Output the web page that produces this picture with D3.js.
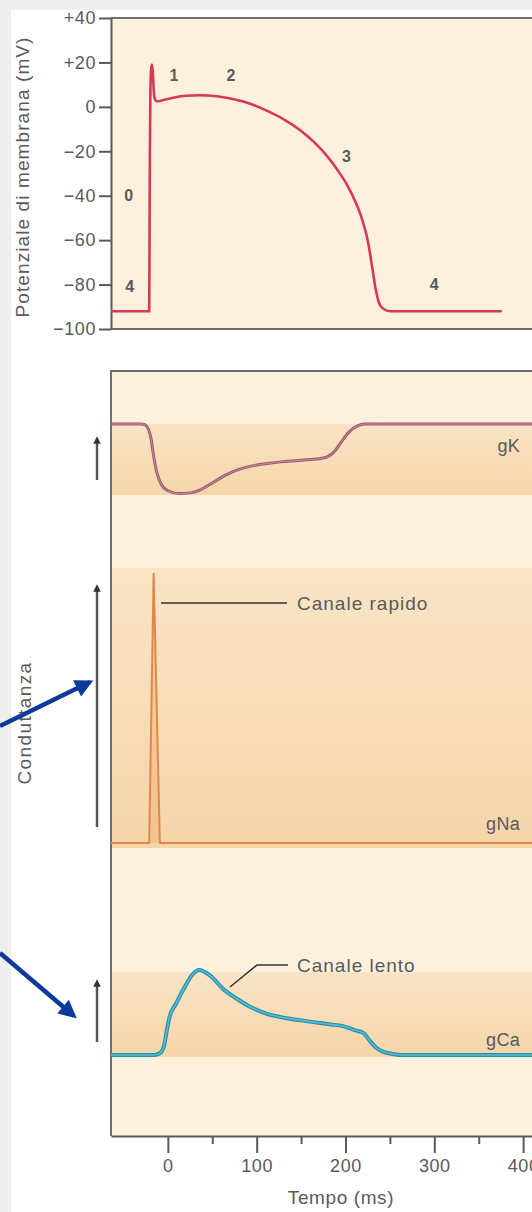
<!DOCTYPE html>
<html>
<head>
<meta charset="utf-8">
<script src="https://cdn.jsdelivr.net/npm/d3@7"></script>
<style>
  body { margin: 0; background: #fff; }
  svg { display: block; }
  text { font-family: "Liberation Sans", Arial, sans-serif; fill: #5a5a5a; }
</style>
</head>
<body>
<div class="canvas"></div>
<script>
const WIDTH = 532, HEIGHT = 1212;

// data
const apTime = [-64, -21, -20.6, -20.2, -19.6, -18.8, -17.8, -16.8, -15.8, -14.6, -12, -6, 5, 20, 36, 55, 73, 92, 110, 130, 149, 165, 180, 192, 203, 212, 219, 225, 230, 234, 238, 243, 250, 376];
const apMv   = [-92, -92, -60, -20, 8, 17, 19, 15, 7, 3.5, 2.5, 3, 4, 5, 5.2, 4.8, 3.5, 1.5, -1.5, -5.5, -10.5, -16, -22.5, -29, -36, -43.5, -51, -60, -72, -82, -88.5, -91, -92, -92];

const gkTime = [-64, -30, -26, -22, -19, -16, -12, -7, 0, 13, 25, 36, 50, 65, 80, 95, 110, 130, 150, 170, 180, 188, 196, 205, 213, 222, 235, 410];
const gkVal  = [1, 1, 0.99, 0.93, 0.8, 0.55, 0.3, 0.14, 0.06, 0.02, 0.03, 0.07, 0.17, 0.28, 0.36, 0.41, 0.44, 0.47, 0.49, 0.51, 0.54, 0.62, 0.76, 0.9, 0.97, 1, 1, 1];

const gnaTime = [-64, -21, -16, -9, 410];
const gnaVal  = [0, 0, 1, 0, 0];

const gcaTime = [-64, -15, -9, -4.5, -1, 2, 9, 19, 28, 35, 47, 64, 75, 92, 110, 148, 183, 197, 211, 220, 228, 234, 242, 249, 262, 410];
const gcaVal  = [0, 0, 0.02, 0.1, 0.3, 0.45, 0.6, 0.8, 0.95, 1, 0.94, 0.76, 0.68, 0.57, 0.49, 0.41, 0.36, 0.34, 0.29, 0.26, 0.16, 0.09, 0.04, 0.02, 0, 0];

const mvTicks = [40, 20, 0, -20, -40, -60, -80, -100];
const timeMajor = [0, 100, 200, 300, 400];
const timeMinor = [50, 150, 250, 350];

const phaseLabels = ['0', '1', '2', '3', '4', '4'];
const phaseTime   = [-44, 7, 71, 201, -43, 300];
const phaseMv     = [-40, 14, 14, -22.5, -81, -80];

const svg = d3.select('.canvas').append('svg')
  .attr('width', WIDTH)
  .attr('height', HEIGHT);

const defs = svg.append('defs');
const band = defs.append('linearGradient').attr('id', 'band')
  .attr('x1', 0).attr('y1', 0).attr('x2', 0).attr('y2', 1);
band.append('stop').attr('offset', '0%').attr('stop-color', '#fae4c6');
band.append('stop').attr('offset', '100%').attr('stop-color', '#f5d5a9');

defs.append('marker').attr('id', 'tip')
  .attr('viewBox', '0 0 10 10').attr('refX', 5).attr('refY', 5)
  .attr('markerWidth', 3).attr('markerHeight', 3).attr('orient', 'auto')
  .append('path').attr('d', 'M0,0L10,5L0,10z').attr('fill', '#333');

defs.append('marker').attr('id', 'blue')
  .attr('viewBox', '0 0 10 10').attr('refX', 8).attr('refY', 5)
  .attr('markerWidth', 4.4).attr('markerHeight', 4).attr('orient', 'auto')
  .append('path').attr('d', 'M0,0L10,5L0,10z').attr('fill', '#0b3a9c');

// grey strips at the edges of the scan
svg.append('rect').attr('x', 0).attr('y', 0).attr('width', WIDTH).attr('height', 10).attr('fill', '#efefef');
svg.append('rect').attr('x', 0).attr('y', 0).attr('width', 11).attr('height', HEIGHT).attr('fill', '#efefef');

//scales
const x = d3.scaleLinear().domain([-64, 410]).range([111, 532]);
const yV = d3.scaleLinear().domain([-100, 40]).range([329, 18]);
const yK = d3.scaleLinear().domain([0, 1]).range([495, 424]);
const yNa = d3.scaleLinear().domain([0, 1]).range([843, 573]);
const yCa = d3.scaleLinear().domain([0, 1]).range([1055, 970]);

// top panel
svg.append('rect').attr('x', 111).attr('y', 18).attr('width', WIDTH - 111).attr('height', 311).attr('fill', '#fdf1de');
svg.append('line').attr('x1', 111).attr('x2', WIDTH).attr('y1', 18).attr('y2', 18).attr('stroke', '#6e6e6e').attr('stroke-width', 2);
svg.append('line').attr('x1', 111).attr('x2', WIDTH).attr('y1', 329).attr('y2', 329).attr('stroke', '#6e6e6e').attr('stroke-width', 2);

const yAxis = svg.append('g')
  .attr('transform', 'translate(111,0)')
  .call(d3.axisLeft(yV).tickValues(mvTicks).tickSizeInner(12).tickSizeOuter(0).tickPadding(3)
    .tickFormat(d => d > 0 ? '+' + d : d < 0 ? '\u2212' + Math.abs(d) : '0'));
yAxis.selectAll('path, line').attr('stroke', '#5a5a5a').attr('stroke-width', 2);
yAxis.selectAll('text').style('font-size', '18px').attr('fill', '#5a5a5a')
  .attr('letter-spacing', '0.6px').attr('font-family', '"Liberation Sans", Arial, sans-serif');

svg.append('text')
  .attr('transform', 'translate(29,177) rotate(-90)')
  .attr('text-anchor', 'middle')
  .style('font-size', '19px').attr('letter-spacing', '1.1px')
  .text('Potenziale di membrana (mV)');

const apLine = d3.line()
  .x((d, i) => x(apTime[i]))
  .y(d => yV(d))
  .curve(d3.curveMonotoneX);

svg.append('path').datum(apMv)
  .attr('d', apLine)
  .attr('fill', 'none').attr('stroke', '#d8365a').attr('stroke-width', 2.6);

svg.selectAll('.phase').data(phaseLabels).enter().append('text')
  .attr('class', 'phase')
  .attr('x', (d, i) => x(phaseTime[i]))
  .attr('y', (d, i) => yV(phaseMv[i]))
  .attr('text-anchor', 'middle').attr('dy', '0.35em')
  .style('font-size', '16px').style('font-weight', 'bold').attr('fill', '#555')
  .text(d => d);

// lower panel
svg.append('rect').attr('x', 111).attr('y', 371).attr('width', WIDTH - 111).attr('height', 765).attr('fill', '#fdf0dc');
svg.append('rect').attr('x', 111).attr('y', yK(1)).attr('width', WIDTH - 111).attr('height', yK(0) - yK(1)).attr('fill', 'url(#band)');
svg.append('rect').attr('x', 111).attr('y', 568).attr('width', WIDTH - 111).attr('height', 280).attr('fill', 'url(#band)');
svg.append('rect').attr('x', 111).attr('y', 972).attr('width', WIDTH - 111).attr('height', 85).attr('fill', 'url(#band)');
svg.append('line').attr('x1', 111).attr('x2', WIDTH).attr('y1', 371).attr('y2', 371).attr('stroke', '#6e6e6e').attr('stroke-width', 2);
svg.append('line').attr('x1', 111).attr('x2', 111).attr('y1', 370).attr('y2', 1136).attr('stroke', '#6e6e6e').attr('stroke-width', 2);

const xAxisMajor = svg.append('g')
  .attr('transform', 'translate(0,1136)')
  .call(d3.axisBottom(x).tickValues(timeMajor).tickSizeInner(17).tickSizeOuter(0).tickPadding(6));
const xAxisMinor = svg.append('g')
  .attr('transform', 'translate(0,1136)')
  .call(d3.axisBottom(x).tickValues(timeMinor).tickSizeInner(8).tickSizeOuter(0).tickFormat(''));
xAxisMinor.select('.domain').remove();
svg.selectAll('.tick line, .domain').attr('stroke', '#5a5a5a').attr('stroke-width', 2);
xAxisMajor.selectAll('text').style('font-size', '18px').attr('fill', '#5a5a5a')
  .attr('letter-spacing', '0.6px').attr('font-family', '"Liberation Sans", Arial, sans-serif');

svg.append('text')
  .attr('x', 341).attr('y', 1204)
  .attr('text-anchor', 'middle')
  .style('font-size', '19px').attr('letter-spacing', '0.6px')
  .text('Tempo (ms)');

svg.append('text')
  .attr('transform', 'translate(31,723) rotate(-90)')
  .attr('text-anchor', 'middle')
  .style('font-size', '19px').attr('letter-spacing', '1.4px')
  .text('Conduttanza');

// conductance curves
const kLine = d3.line().x((d, i) => x(gkTime[i])).y(d => yK(d)).curve(d3.curveMonotoneX);
svg.append('path').datum(gkVal).attr('d', kLine)
  .attr('fill', 'none').attr('stroke', '#9c5a70').attr('stroke-width', 3);
svg.append('path').datum(gkVal).attr('d', kLine)
  .attr('fill', 'none').attr('stroke', '#c98a9c').attr('stroke-width', 1);

const naLine = d3.line().x((d, i) => x(gnaTime[i])).y(d => yNa(d));
svg.append('path').datum(gnaVal).attr('d', naLine)
  .attr('fill', '#f2b27a').attr('fill-opacity', 0.5)
  .attr('stroke', '#e0884a').attr('stroke-width', 2);

const caLine = d3.line().x((d, i) => x(gcaTime[i])).y(d => yCa(d)).curve(d3.curveMonotoneX);
svg.append('path').datum(gcaVal).attr('d', caLine)
  .attr('fill', 'none').attr('stroke', '#2c8ea8').attr('stroke-width', 4);
svg.append('path').datum(gcaVal).attr('d', caLine)
  .attr('fill', 'none').attr('stroke', '#56bcd6').attr('stroke-width', 1.6);

// series labels
const seriesLabels = ['gK', 'gNa', 'gCa'];
const seriesLabelY = [yK(0.7), yNa(0.07), yCa(0.18)];
svg.selectAll('.slabel').data(seriesLabels).enter().append('text')
  .attr('x', 520).attr('y', (d, i) => seriesLabelY[i])
  .attr('text-anchor', 'end').attr('dy', '0.35em')
  .style('font-size', '18px').attr('letter-spacing', '0.3px')
  .text(d => d);

// leaders
svg.append('line').attr('x1', 161).attr('x2', 287).attr('y1', 603).attr('y2', 603)
  .attr('stroke', '#333').attr('stroke-width', 1.5);
svg.append('text').attr('x', 297).attr('y', 603).attr('dy', '0.35em')
  .style('font-size', '19px').attr('letter-spacing', '1px').text('Canale rapido');

svg.append('path').attr('d', 'M230,987L257,965L288,965')
  .attr('fill', 'none').attr('stroke', '#333').attr('stroke-width', 1.5);
svg.append('text').attr('x', 297).attr('y', 965).attr('dy', '0.35em')
  .style('font-size', '19px').attr('letter-spacing', '1px').text('Canale lento');

// scale arrows
const arrowBottom = [480, 827, 1042];
const arrowTop = [440, 588, 983];
svg.selectAll('.sarrow').data(arrowBottom).enter().append('line')
  .attr('x1', 97).attr('x2', 97)
  .attr('y1', d => d).attr('y2', (d, i) => arrowTop[i])
  .attr('stroke', '#555').attr('stroke-width', 2.5)
  .attr('marker-end', 'url(#tip)');

// blue pointers
svg.append('line').attr('x1', 0).attr('y1', 726).attr('x2', 90).attr('y2', 682)
  .attr('stroke', '#0b3a9c').attr('stroke-width', 4.5).attr('marker-end', 'url(#blue)');
svg.append('line').attr('x1', 0).attr('y1', 953).attr('x2', 74).attr('y2', 1016)
  .attr('stroke', '#0b3a9c').attr('stroke-width', 4.5).attr('marker-end', 'url(#blue)');
</script>
</body>
</html>
